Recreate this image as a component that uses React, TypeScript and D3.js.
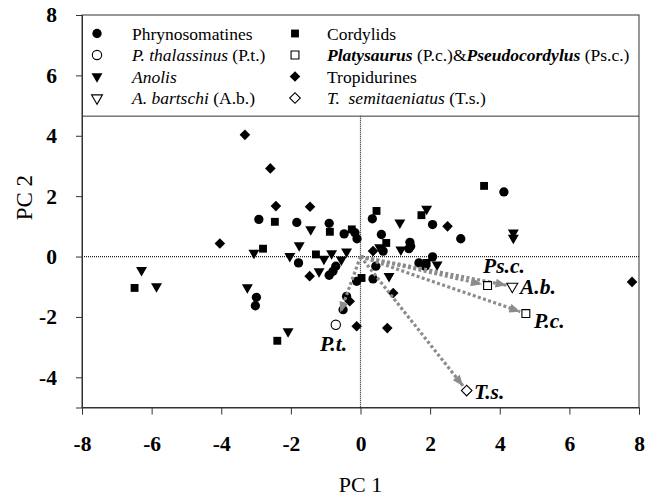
import React, { useEffect, useRef } from 'react'
import * as d3 from 'd3'

type Pt = [number, number]

// PC1, PC2 scores
const phrynosomatines: Pt[] = [
  [-2.92, 1.23], [-2.99, -1.35], [-3.02, -1.63], [-1.83, 1.13], [-0.90, 1.10],
  [-0.47, 0.75], [-0.16, 0.79], [-0.10, 0.59], [0.34, 1.25], [2.07, 1.06],
  [0.60, 0.73], [0.65, 0.18], [1.42, 0.47], [1.44, 0.34], [1.39, 0.26],
  [1.68, -0.21], [1.86, -0.32], [2.07, -0.01], [0.44, -0.32], [0.36, -0.74],
  [-0.11, -0.82], [-0.40, -1.32], [-0.50, -1.76], [-1.78, -0.21], [-0.71, -0.32],
  [-0.79, -0.49], [-0.90, -0.62], [2.88, 0.59], [4.12, 2.14],
]
const anolis: Pt[] = [
  [-3.06, 0.12], [-6.29, -0.45], [-5.86, -0.99], [-3.25, -1.02], [-1.43, 0.90],
  [1.13, 1.12], [1.90, 1.58], [1.16, 0.23], [2.20, -0.27], [0.82, -0.65],
  [-2.08, -2.48], [-2.03, 0.01], [-1.76, 0.37], [-1.05, -0.08], [-0.83, 0.10],
  [-0.40, 0.16], [-0.55, -0.10], [-1.19, -0.49], [4.39, 0.79], [4.39, 0.62],
  [0.55, 0.30],
]
const cordylids: Pt[] = [
  [-6.49, -1.04], [-2.46, 1.15], [-0.88, 0.82], [-0.25, 0.90], [0.46, 1.51],
  [1.75, 1.37], [0.74, 0.45], [1.90, -0.21], [0.03, -0.71], [-2.39, -2.79],
  [-2.80, 0.26], [-1.28, 0.07], [3.55, 2.34],
]
const tropidurines: Pt[] = [
  [-3.32, 4.03], [-4.04, 0.43], [-2.59, 2.92], [-2.43, 1.67], [-1.45, 1.65],
  [2.50, 1.00], [0.36, 0.18], [0.94, -1.21], [0.77, -2.37], [-0.11, -2.31],
  [-0.31, -1.48], [-1.46, -0.65], [7.80, -0.84],
]

// highlighted species (open markers with arrows from the origin)
const highlightLabels = ['P.t.', 'Ps.c.', 'A.b.', 'P.c.', 'T.s.']
const highlightPoints: Pt[] = [[-0.71, -2.26], [3.65, -0.96], [4.36, -0.99], [4.75, -1.89], [3.05, -4.44]]
const highlightShapes = ['circle', 'square', 'triangle', 'square', 'diamond']

const xTicks = [-8, -6, -4, -2, 0, 2, 4, 6, 8]
const yTicks = [-4, -2, 0, 2, 4, 6, 8]

const SERIF = '"Liberation Serif", "Times New Roman", serif'
const ARROW = '#8c8c8c'

function symbolPath(shape: string) {
  if (shape === 'circle') return d3.symbol(d3.symbolCircle, 68)()
  if (shape === 'square') return d3.symbol(d3.symbolSquare, 62)()
  if (shape === 'diamond') return d3.symbol(d3.symbolSquare, 56)()
  return d3.symbol(d3.symbolTriangle, 52)()
}
function symbolRotate(shape: string) {
  if (shape === 'diamond') return 45
  if (shape === 'triangle') return 180
  return 0
}

export default function App() {
  const ref = useRef<SVGSVGElement>(null)

  useEffect(() => {
    if (!ref.current) return
    const svg = d3.select(ref.current)
    svg.selectAll('*').remove()

    const x = d3.scaleLinear().domain([-8, 8]).range([82, 639])
    const y = d3.scaleLinear().domain([-5, 8]).range([407.5, 15])
    const legendBottom = y(4.65)

    const defs = svg.append('defs')
    defs.append('marker')
      .attr('id', 'ahead').attr('viewBox', '0 0 12 10')
      .attr('refX', 12).attr('refY', 5)
      .attr('markerWidth', 12).attr('markerHeight', 9)
      .attr('markerUnits', 'userSpaceOnUse').attr('orient', 'auto')
      .append('path').attr('d', 'M0,0 L12,5 L0,10 Z').attr('fill', ARROW)

    // zero lines
    svg.append('line')
      .attr('x1', x(-8)).attr('x2', x(8)).attr('y1', y(0)).attr('y2', y(0))
      .attr('stroke', '#222').attr('stroke-width', 1.2).attr('stroke-dasharray', '1,1')
    svg.append('line')
      .attr('x1', x(0)).attr('x2', x(0)).attr('y1', legendBottom).attr('y2', y(-5))
      .attr('stroke', '#222').attr('stroke-width', 1.2).attr('stroke-dasharray', '1,1')

    // filled group markers
    const groups: { data: Pt[], shape: string }[] = [
      { data: phrynosomatines, shape: 'circle' },
      { data: anolis, shape: 'triangle' },
      { data: cordylids, shape: 'square' },
      { data: tropidurines, shape: 'diamond' },
    ]
    groups.forEach(gr => {
      svg.append('g').selectAll('path')
        .data(gr.data)
        .join('path')
        .attr('d', symbolPath(gr.shape))
        .attr('transform', d => `translate(${x(d[0])},${y(d[1])}) rotate(${symbolRotate(gr.shape)})`)
        .attr('fill', '#000')
    })

    // arrows from origin
    const ox = x(0), oy = y(0)
    highlightPoints.forEach((p, i) => {
      const tx = x(p[0]), ty = y(p[1])
      const len = Math.hypot(tx - ox, ty - oy)
      const trim = i === 0 ? 13 : 6
      const ex = ox + (tx - ox) * (len - trim) / len
      const ey = oy + (ty - oy) * (len - trim) / len
      svg.append('line')
        .attr('x1', ox).attr('y1', oy).attr('x2', ex).attr('y2', ey)
        .attr('stroke', ARROW).attr('stroke-width', 3.2)
        .attr('stroke-dasharray', '3,2.4')
        .attr('marker-end', 'url(#ahead)')
    })

    // open markers for highlighted species
    highlightPoints.forEach((p, i) => {
      svg.append('path')
        .attr('d', symbolPath(highlightShapes[i]))
        .attr('transform', `translate(${x(p[0])},${y(p[1])}) rotate(${symbolRotate(highlightShapes[i])})`)
        .attr('fill', '#fff').attr('stroke', '#000').attr('stroke-width', 1.1)
    })

    // labels
    const labelPos: Pt[] = [[320, 351], [483, 273], [520, 294], [534, 328], [474, 399]]
    highlightLabels.forEach((t, i) => {
      svg.append('text')
        .attr('x', labelPos[i][0]).attr('y', labelPos[i][1])
        .attr('font-family', SERIF).attr('font-size', 21.5)
        .attr('font-weight', 'bold').attr('font-style', 'italic')
        .text(t)
    })

    // frame
    svg.append('rect')
      .attr('x', x(-8)).attr('y', y(8))
      .attr('width', x(8) - x(-8)).attr('height', y(-5) - y(8))
      .attr('fill', 'none').attr('stroke', '#333').attr('stroke-width', 1)
    svg.append('line')
      .attr('x1', x(-8)).attr('x2', x(8)).attr('y1', legendBottom).attr('y2', legendBottom)
      .attr('stroke', '#333').attr('stroke-width', 1)

    // axes
    const xAxis = svg.append('g')
      .attr('transform', `translate(0,${y(-5)})`)
      .call(d3.axisBottom(x).tickValues(xTicks).tickSize(7).tickPadding(21).tickFormat(d3.format('d')))
    const yAxis = svg.append('g')
      .attr('transform', `translate(${x(-8)},0)`)
      .call(d3.axisLeft(y).tickValues(yTicks).tickSize(6).tickPadding(19).tickFormat(d3.format('d')))
    ;[xAxis, yAxis].forEach(a => {
      a.select('.domain').attr('stroke', '#333')
      a.selectAll('.tick line').attr('stroke', '#333')
      a.selectAll('text')
        .attr('font-family', SERIF).attr('font-size', 21.5).attr('font-weight', 'bold')
        .attr('fill', '#000')
        .text((d: any) => String(d).replace('−', '-'))
    })

    svg.append('text')
      .attr('x', x(0)).attr('y', 492)
      .attr('text-anchor', 'middle')
      .attr('font-family', SERIF).attr('font-size', 22)
      .text('PC 1')
    svg.append('text')
      .attr('transform', `translate(32,${y(1.95)}) rotate(-90)`)
      .attr('text-anchor', 'middle')
      .attr('font-family', SERIF).attr('font-size', 23)
      .text('PC 2')

    // legend
    type Run = { t: string, w?: string, s?: string }
    const legendItems: { shape: string, filled: boolean, runs: Run[] }[] = [
      { shape: 'circle', filled: true, runs: [{ t: 'Phrynosomatines' }] },
      { shape: 'circle', filled: false, runs: [{ t: 'P. thalassinus', s: 'italic' }, { t: ' (P.t.)' }] },
      { shape: 'triangle', filled: true, runs: [{ t: 'Anolis', s: 'italic' }] },
      { shape: 'triangle', filled: false, runs: [{ t: 'A. bartschi', s: 'italic' }, { t: ' (A.b.)' }] },
      { shape: 'square', filled: true, runs: [{ t: 'Cordylids' }] },
      { shape: 'square', filled: false, runs: [
        { t: 'Platysaurus', s: 'italic', w: 'bold' }, { t: ' (P.c.)&' },
        { t: 'Pseudocordylus', s: 'italic', w: 'bold' }, { t: ' (Ps.c.)' }] },
      { shape: 'diamond', filled: true, runs: [{ t: 'Tropidurines' }] },
      { shape: 'diamond', filled: false, runs: [{ t: 'T.\u00a0 semitaeniatus', s: 'italic' }, { t: ' (T.s.)' }] },
    ]
    const lg = svg.append('g')
    legendItems.forEach((it, i) => {
      const col = Math.floor(i / 4), row = i % 4
      const mx = col === 0 ? 97 : 295
      const tx = col === 0 ? 132 : 327
      const cy = 33.5 + row * 21.5
      lg.append('path')
        .attr('d', symbolPath(it.shape))
        .attr('transform', `translate(${mx},${cy}) rotate(${symbolRotate(it.shape)})`)
        .attr('fill', it.filled ? '#000' : '#fff')
        .attr('stroke', it.filled ? 'none' : '#000').attr('stroke-width', 1.1)
      const txt = lg.append('text')
        .attr('x', tx).attr('y', cy + 6)
        .attr('font-family', SERIF).attr('font-size', 17.5)
        .attr('xml:space', 'preserve')
      it.runs.forEach(r => {
        txt.append('tspan')
          .attr('font-style', r.s || 'normal')
          .attr('font-weight', r.w || 'normal')
          .text(r.t)
      })
    })
  }, [])

  return (
    <svg ref={ref} width={646} height={497}
      style={{ position: 'absolute', left: 0, top: 0, background: '#fff', display: 'block' }} />
  )
}
